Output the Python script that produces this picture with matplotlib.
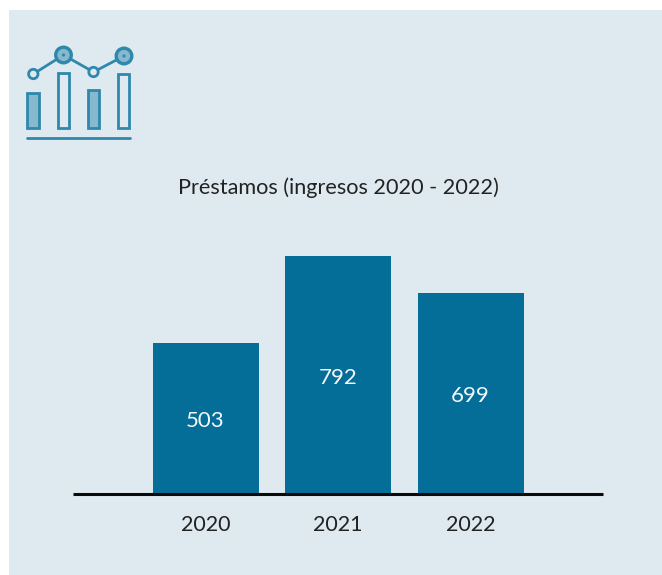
import matplotlib
matplotlib.use('Agg')
import matplotlib.pyplot as plt
from matplotlib.patches import Rectangle, Circle

plt.rcParams['font.family'] = ['Lato', 'DejaVu Sans']

W, H = 662, 575
years = ['2020', '2021', '2022']
alturas = [503, 792, 670]  # la barra de 2022 esta dibujada mas baja que su etiqueta
etiquetas = ['503', '792', '699']
titulo = 'Préstamos (ingresos 2020 - 2022)'

FONDO = '#deeaf0'
AZUL = '#046e99'
ICONO = '#2f88ab'
ICONO_CLARO = '#86b8ce'

fig = plt.figure(figsize=(W / 100, H / 100), dpi=100, facecolor='white')

# panel de fondo e icono, en pixeles
bg = fig.add_axes([0, 0, 1, 1])
bg.set_xlim(0, W)
bg.set_ylim(H, 0)
bg.axis('off')
bg.add_patch(Rectangle((9, 10), 653, 565, facecolor=FONDO, edgecolor='none'))

for x, y, h, relleno in [(33, 92.8, 35.4, ICONO_CLARO), (63.2, 73.2, 55, FONDO),
                         (93.7, 90.2, 38, ICONO_CLARO), (123.7, 74, 54.2, FONDO)]:
    bg.add_patch(Rectangle((x - 5.6, y), 11.2, h, facecolor=relleno, edgecolor=ICONO, lw=2))
bg.plot([27, 130], [137.7, 137.7], color=ICONO, lw=2, solid_capstyle='round')
bg.plot([33.3, 63.5, 93.5, 124], [74, 55, 72, 56], color=ICONO, lw=2)
for x, y in [(33.3, 74), (93.5, 72)]:
    bg.add_patch(Circle((x, y), 4.7, facecolor=FONDO, edgecolor=ICONO, lw=2, zorder=3))
for x, y in [(63.5, 55), (124, 56)]:
    bg.add_patch(Circle((x, y), 7.8, facecolor=ICONO_CLARO, edgecolor=ICONO, lw=2.4, zorder=3))
    bg.add_patch(Circle((x, y), 1.6, facecolor=ICONO, edgecolor='none', zorder=4))

# grafico de barras
izq, der, base, arriba = 73, 603, 494, 194
ax = fig.add_axes([izq / W, 1 - base / H, (der - izq) / W, (base - arriba) / H])
ax.patch.set_alpha(0)
bars = ax.bar(range(3), alturas, width=0.8, color=AZUL)
ax.set_xlim(-1, 3)
ax.set_ylim(0, 1000)
for s in ['top', 'left', 'right']:
    ax.spines[s].set_visible(False)
ax.spines['bottom'].set_linewidth(2.2)
ax.spines['bottom'].set_color('#0a0a0a')
ax.spines['bottom'].set_capstyle('butt')
ax.set_yticks([])
ax.set_xticks(range(3), years)
ax.tick_params(axis='x', length=0, pad=15, labelsize=15.5, labelcolor='#222222')
for b, t in zip(bars, etiquetas):
    ax.annotate(t, (b.get_x() + b.get_width() / 2, b.get_height() / 2), xytext=(0, -2),
                textcoords='offset points', ha='center', va='center',
                color='#f4f8fa', fontsize=16)

bg.text(338.5, 188, titulo, ha='center', va='center', fontsize=15.6, color='#222222')

fig.savefig('out.png', dpi=100)
